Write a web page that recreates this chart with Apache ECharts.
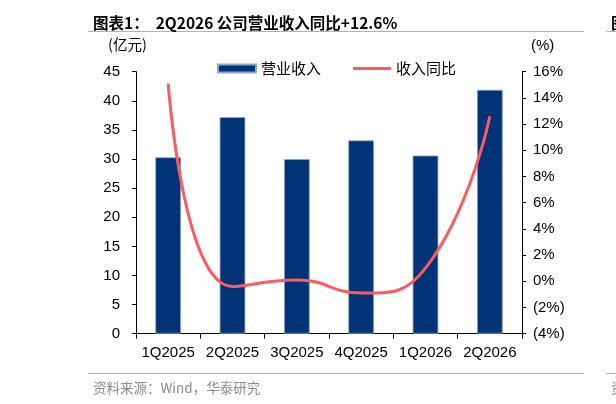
<!DOCTYPE html>
<html lang="zh">
<head>
<meta charset="UTF-8">
<title>2Q2026 公司营业收入同比</title>
<script src="https://cdn.jsdelivr.net/npm/echarts@6/dist/echarts.min.js"></script>
<style>
  html, body { margin: 0; padding: 0; background: #fff; }
  #main { width: 616px; height: 404px; }
</style>
</head>
<body>
<div id="main"></div>
<script>
// 数据
var quarters = ['1Q2025', '2Q2025', '3Q2025', '4Q2025', '1Q2026', '2Q2026'];
var revenue = [30.3, 37.2, 30.0, 33.2, 30.6, 41.9];   // 营业收入（亿元）
var yoy = [15.1, -0.4, 0.1, -0.9, 1.0, 12.6];          // 收入同比（%）

var cjk = '"Noto Sans CJK SC", "Liberation Sans", sans-serif';
var latin = '"Liberation Sans", Arial, sans-serif';

var chart = echarts.init(document.getElementById('main'), null, { renderer: 'canvas' });

var option = {
  animation: false,
  backgroundColor: '#fff',
  title: [
    {
      text: '图表1：  2Q2026 公司营业收入同比+12.6%',
      left: 88, top: 10,
      textStyle: { fontFamily: cjk, fontSize: 15.5, fontWeight: 'bold', color: '#000' }
    },
    {
      text: '图',
      left: 606, top: 10,
      textStyle: { fontFamily: cjk, fontSize: 15.5, fontWeight: 'bold', color: '#000' }
    },
    {
      text: '资料来源：Wind，华泰研究',
      left: 88, top: 376,
      textStyle: { fontFamily: cjk, fontSize: 13.5, fontWeight: 'normal', color: '#8c8c8c' }
    },
    {
      text: '资',
      left: 606, top: 376,
      textStyle: { fontFamily: cjk, fontSize: 13.5, fontWeight: 'normal', color: '#8c8c8c' }
    }
  ],
  graphic: [
    { type: 'line', shape: { x1: 88, y1: 31.5, x2: 584, y2: 31.5 }, style: { stroke: '#9fb7d0', lineWidth: 1 } },
    { type: 'line', shape: { x1: 606, y1: 31.5, x2: 616, y2: 31.5 }, style: { stroke: '#9fb7d0', lineWidth: 1 } },
    { type: 'line', shape: { x1: 88, y1: 373.5, x2: 584, y2: 373.5 }, style: { stroke: '#9fb7d0', lineWidth: 1 } },
    { type: 'line', shape: { x1: 606, y1: 373.5, x2: 616, y2: 373.5 }, style: { stroke: '#9fb7d0', lineWidth: 1 } },
    { type: 'text', left: 108, top: 37, style: { text: '(亿元)', font: '14.5px ' + cjk, fill: '#000' } },
    { type: 'text', left: 531, top: 38, style: { text: '(%)', font: '15px ' + latin, fill: '#000' } }
  ],
  legend: {
    top: 61,
    left: 217,
    padding: 0,
    itemGap: 32,
    itemWidth: 38,
    itemHeight: 8,
    textStyle: { fontFamily: cjk, fontSize: 15, color: '#000' },
    data: [
      { name: '营业收入', icon: 'rect' },
      { name: '收入同比', icon: 'path://M0,0 L40,0 L40,3 L0,3 Z', itemStyle: { color: '#ff5a5f' } }
    ]
  },
  grid: { left: 136, right: 94, top: 71.7, bottom: 70.3, containLabel: false },
  xAxis: {
    type: 'category',
    data: quarters,
    axisLine: { lineStyle: { color: '#000', width: 1 } },
    axisTick: { show: true, length: 5, alignWithLabel: false, lineStyle: { color: '#000' } },
    axisLabel: { interval: 0, margin: 12, fontFamily: latin, fontSize: 15, color: '#000' }
  },
  yAxis: [
    {
      type: 'value',
      min: 0, max: 45, interval: 5,
      position: 'left',
      axisLine: { show: true, lineStyle: { color: '#000', width: 1 } },
      axisTick: { show: true, length: 4, lineStyle: { color: '#000' } },
      splitLine: { show: false },
      axisLabel: { margin: 16, fontFamily: latin, fontSize: 15, color: '#000' }
    },
    {
      type: 'value',
      min: -4, max: 16, interval: 2,
      position: 'right',
      axisLine: { show: true, lineStyle: { color: '#000', width: 1 } },
      axisTick: { show: true, length: 4, lineStyle: { color: '#000' } },
      splitLine: { show: false },
      axisLabel: {
        margin: 11, fontFamily: latin, fontSize: 15, color: '#000',
        formatter: function (v) { return v < 0 ? '(' + (-v) + '%)' : v + '%'; }
      }
    }
  ],
  series: [
    {
      name: '营业收入',
      type: 'bar',
      yAxisIndex: 0,
      barWidth: '40%',
      data: revenue,
      itemStyle: { color: '#003476', borderColor: '#8ea8c8', borderWidth: 0.8 }
    },
    {
      name: '收入同比',
      type: 'line',
      yAxisIndex: 1,
      smooth: 0.5,
      showSymbol: false,
      symbol: 'none',
      data: yoy,
      lineStyle: { color: '#ff5a5f', width: 3 },
      itemStyle: { color: '#ff5a5f' }
    }
  ]
};

chart.setOption(option);
</script>
</body>
</html>
